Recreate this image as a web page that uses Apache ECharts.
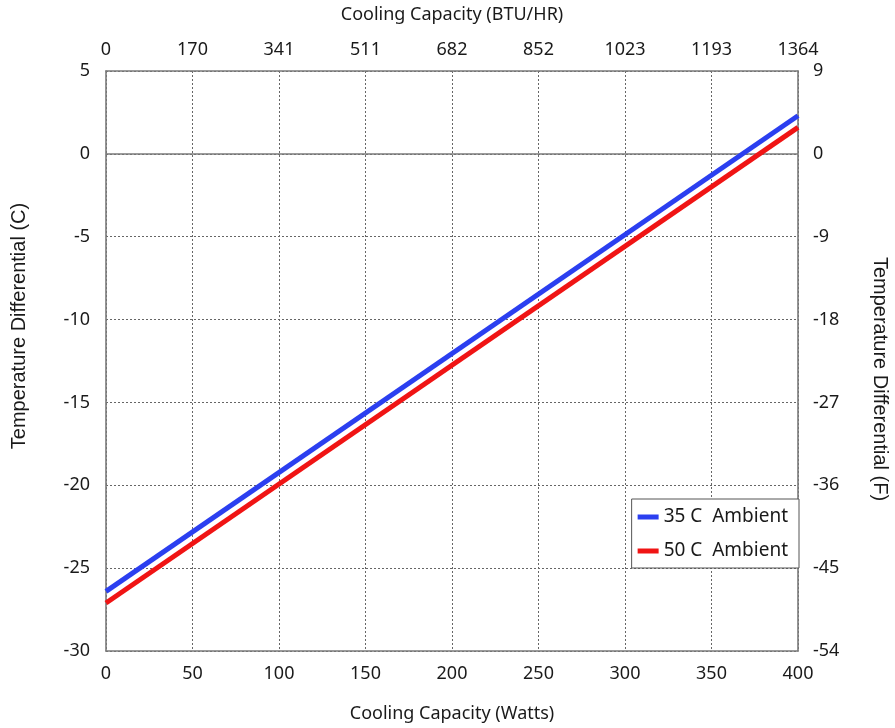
<!DOCTYPE html>
<html>
<head>
<meta charset="utf-8">
<script src="https://cdn.jsdelivr.net/npm/echarts@6/dist/echarts.min.js"></script>
<style>
html,body{margin:0;padding:0;background:#fff;}
#chart{width:895px;height:728px;}
</style>
</head>
<body>
<div id="chart"></div>
<script>
// Data
var wattsX = [0, 400];
var ambient35 = [-26.4, 2.3];
var ambient50 = [-27.1, 1.6];
var seriesNames = ['35 C  Ambient', '50 C  Ambient'];
var btuTickLabels = ['0', '170', '341', '511', '682', '852', '1023', '1193', '1364'];
var leftTitle = 'Temperature Differential (C)';
var rightTitle = 'Temperature Differential (F)';

function pairs(xs, ys) { return xs.map(function (x, i) { return [x, ys[i]]; }); }

var tickFont = { fontFamily: 'Noto Sans', fontSize: 18, color: '#1a1a1a' };
var axisLineStyle = { show: true, onZero: false, lineStyle: { color: '#7a7a7a', width: 1.6 } };
var gridLine = { show: true, lineStyle: { color: '#666', type: [2, 2], width: 1 } };

var chart = echarts.init(document.getElementById('chart'), null, { renderer: 'canvas' });
chart.setOption({
  animation: false,
  backgroundColor: '#fff',
  grid: { left: 106, right: 97, top: 71, bottom: 76, containLabel: false },
  legend: {
    data: seriesNames,
    orient: 'vertical',
    right: 96,
    top: 499,
    icon: 'rect',
    itemWidth: 21,
    itemHeight: 5,
    itemGap: 12,
    padding: [7, 11, 6, 6],
    backgroundColor: '#fff',
    borderColor: '#555',
    borderWidth: 1,
    textStyle: { fontFamily: 'Noto Sans', fontSize: 19, color: '#1a1a1a', lineHeight: 22 }
  },
  xAxis: [
    {
      type: 'value', position: 'bottom', min: 0, max: 400, interval: 50,
      name: 'Cooling Capacity (Watts)', nameLocation: 'middle', nameGap: 54,
      nameTextStyle: { fontFamily: 'Noto Sans', fontSize: 18, color: '#1a1a1a' },
      axisLine: axisLineStyle, axisTick: { show: false },
      axisLabel: Object.assign({ margin: 14 }, tickFont),
      splitLine: gridLine
    },
    {
      type: 'value', position: 'top', min: 0, max: btuTickLabels.length - 1, interval: 1,
      name: 'Cooling Capacity (BTU/HR)', nameLocation: 'middle', nameGap: 47,
      nameTextStyle: { fontFamily: 'Noto Sans', fontSize: 18, color: '#1a1a1a' },
      axisLine: axisLineStyle, axisTick: { show: false },
      axisLabel: Object.assign({ margin: 12, formatter: function (v) { return btuTickLabels[Math.round(v)]; } }, tickFont),
      splitLine: { show: false }
    }
  ],
  yAxis: [
    {
      type: 'value', position: 'left', min: -30, max: 5, interval: 5,
      axisLine: axisLineStyle, axisTick: { show: false },
      axisLabel: Object.assign({ margin: 16 }, tickFont),
      splitLine: gridLine
    },
    {
      type: 'value', position: 'right', min: -54, max: 9, interval: 9,
      axisLine: axisLineStyle, axisTick: { show: false },
      axisLabel: Object.assign({ margin: 15 }, tickFont),
      splitLine: { show: false }
    }
  ],
  graphic: [
    {
      type: 'text', x: 19, y: 326, rotation: Math.PI / 2,
      style: { text: leftTitle, align: 'center', verticalAlign: 'middle', font: '20px "Liberation Sans", Arial, sans-serif', fill: '#1a1a1a' }
    },
    {
      type: 'text', x: 880, y: 379, rotation: -Math.PI / 2,
      style: { text: rightTitle, align: 'center', verticalAlign: 'middle', font: '20px "Liberation Sans", Arial, sans-serif', fill: '#1a1a1a' }
    }
  ],
  series: [
    {
      name: seriesNames[0], type: 'line', xAxisIndex: 0, yAxisIndex: 0,
      data: pairs(wattsX, ambient35), showSymbol: false, symbol: 'none',
      lineStyle: { color: '#2b3ff0', width: 5 }, itemStyle: { color: '#2b3ff0' },
      z: 5,
      markLine: {
        silent: true, symbol: 'none', label: { show: false },
        lineStyle: { color: '#7a7a7a', type: 'solid', width: 1.6 },
        data: [{ yAxis: 0 }], z: 1
      }
    },
    {
      name: seriesNames[1], type: 'line', xAxisIndex: 0, yAxisIndex: 0,
      data: pairs(wattsX, ambient50), showSymbol: false, symbol: 'none',
      lineStyle: { color: '#f01414', width: 5 }, itemStyle: { color: '#f01414' },
      z: 5
    }
  ]
});
</script>
</body>
</html>
